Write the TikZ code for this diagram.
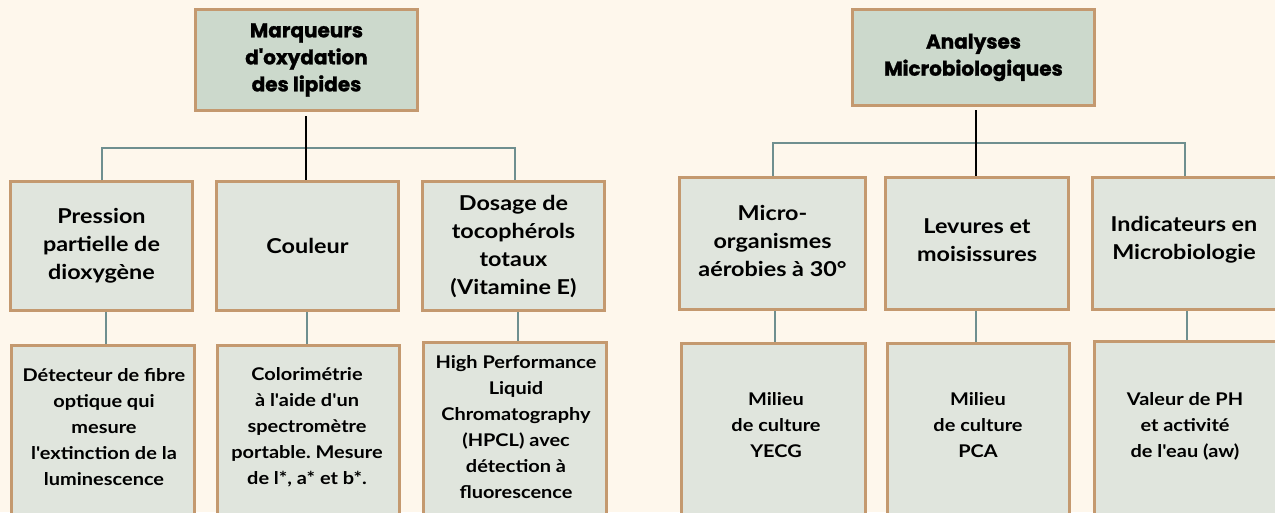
\documentclass[tikz,border=0pt]{standalone}
\usepackage{fontspec}
\setmainfont{Lato}
\newfontfamily\titlefont{Poppins}[BoldFeatures={FakeBold=1.3}]
\newfontfamily\bodyfont{Lato}[FakeStretch=1.14]
\frenchspacing
\definecolor{bgc}{HTML}{FEF7EC}
\definecolor{topfill}{HTML}{CCD9CC}
\definecolor{boxfill}{HTML}{E0E5DD}
\definecolor{tanc}{HTML}{C4996F}
\definecolor{greyc}{HTML}{6F8F8F}
\begin{document}
\begin{tikzpicture}[x=1pt,y=-1pt,
  topbox/.style={draw=tanc, line width=3pt, fill=topfill, inner sep=0pt},
  lvbox/.style={draw=tanc, line width=3pt, fill=boxfill, inner sep=0pt},
  leafbox/.style={draw=tanc, line width=3pt, fill=boxfill, inner sep=0pt, anchor=north, minimum height=220pt},
  toptext/.style={font=\titlefont\bfseries\fontsize{20}{27}\selectfont, align=center, text=black},
  lvtext/.style={font=\bodyfont\bfseries\fontsize{20.5}{28}\selectfont, align=center, text=black},
  leaftext/.style={font=\bodyfont\bfseries\fontsize{17.5}{26}\selectfont, align=center, text=black},
  greyline/.style={draw=greyc, line width=1.8pt},
  blackline/.style={draw=black, line width=1.8pt}
]
\fill[bgc] (0,0) rectangle (1275,512);
\useasboundingbox (0,0) rectangle (1275,512);
\clip (0,0) rectangle (1275,512);

% ---------- Left tree ----------
\node[topbox, minimum width=222pt, minimum height=101pt] (T1) at (306.5,60) {};
\node[toptext] (T1t) at (T1.center) {Marqueurs\\d'oxydation\\ des lipides};

\node[lvbox, minimum width=182pt, minimum height=129pt] (P2) at (101.5,246) {};
\node[lvbox, minimum width=182pt, minimum height=129pt] (C2) at (307.5,246) {};
\node[lvbox, minimum width=182pt, minimum height=129pt] (D2) at (513.5,246) {};
\node[lvtext] (P2t) at (P2.center) {Pression\\partielle de\\dioxygène};
\node[lvtext] (C2t) at (C2.center) {Couleur};
\node[lvtext] (D2t) at (D2.center) {Dosage de\\tocophérols\\totaux\\(Vitamine E)};

\node[leafbox, minimum width=183pt] (P3) at (103,343.5) {};
\node[leafbox, minimum width=182pt] (C3) at (308.5,343.5) {};
\node[leafbox, minimum width=183pt] (D3) at (515,340.5) {};
\node[leaftext] (P3t) at (104,427.5) {Détecteur de fibre\\optique qui\\mesure\\l'extinction de la\\luminescence};
\node[leaftext] (C3t) at (307,427.5) {Colorimétrie\\ à l'aide d'un\\spectromètre\\portable. Mesure\\de l*, a* et b*.};
\node[leaftext] (D3t) at (516,427) {High Performance\\Liquid\\Chromatography\\(HPCL) avec\\détection à\\fluorescence};

% ---------- Right tree ----------
\node[topbox, minimum width=242pt, minimum height=96pt] (T2) at (973.5,57.5) {};
\node[toptext] (T2t) at (T2.center) {Analyses\\Microbiologiques};

\node[lvbox, minimum width=186pt, minimum height=132pt] (M2) at (772.5,243.5) {};
\node[lvbox, minimum width=183pt, minimum height=132pt] (L2) at (977,243.5) {};
\node[lvbox, minimum width=186pt, minimum height=132pt] (I2) at (1185.5,243.5) {};
\node[lvtext] (M2t) at (772.5,241) {Micro-\\organismes\\aérobies à 30°};
\node[lvtext] (L2t) at (977,240) {Levures et\\moisissures};
\node[lvtext] (I2t) at (1184,240) {Indicateurs en\\Microbiologie};

\node[leafbox, minimum width=184pt] (Y3) at (773.5,341.5) {};
\node[leafbox, minimum width=182pt] (A3) at (978.5,341.5) {};
\node[leafbox, minimum width=186pt] (V3) at (1187.5,339.5) {};
\node[leaftext] (Y3t) at (776,425) {Milieu\\de culture\\YECG};
\node[leaftext] (A3t) at (978,425) {Milieu\\de culture\\PCA};
\node[leaftext] (V3t) at (1185,426) {Valeur de PH\\et activité\\de l'eau (aw)};

% ---------- Connectors (left) ----------
\draw[greyline] (P2.north -| 102,0) -- (102,148) -- (515,148) -- (D2.north -| 515,0);
\draw[blackline, shorten <=4pt] (T1.south -| 306,0) -- (C2.north -| 306,0);
\draw[greyline] (P2.south -| 106,0) -- (P3.north -| 106,0);
\draw[greyline] (C2.south -| 307,0) -- (C3.north -| 307,0);
\draw[greyline] (D2.south -| 518,0) -- (D3.north -| 518,0);

% ---------- Connectors (right) ----------
\draw[greyline] (M2.north -| 773,0) -- (773,143) -- (1185,143) -- (I2.north -| 1185,0);
\draw[blackline, shorten <=3pt] (T2.south -| 976,0) -- (L2.north -| 976,0);
\draw[greyline] (M2.south -| 775,0) -- (Y3.north -| 775,0);
\draw[greyline] (L2.south -| 976,0) -- (A3.north -| 976,0);
\draw[greyline] (I2.south -| 1187,0) -- (V3.north -| 1187,0);
\end{tikzpicture}
\end{document}
